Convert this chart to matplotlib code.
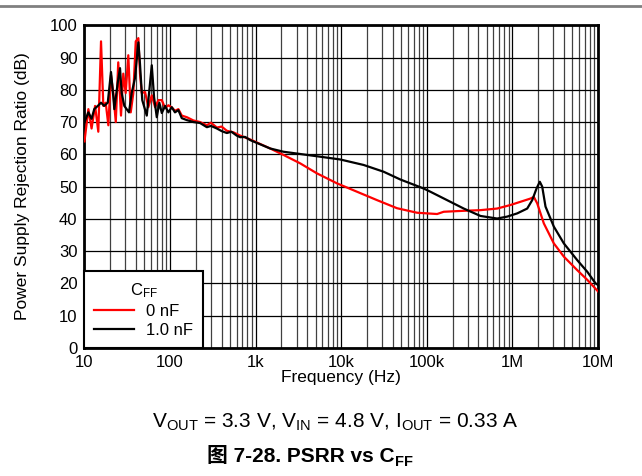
import matplotlib
matplotlib.use("Agg")
import matplotlib.pyplot as plt
from matplotlib.lines import Line2D
from matplotlib.ticker import FixedLocator, LogLocator, NullFormatter

plt.rcParams['font.family'] = ['Liberation Sans', 'Noto Sans CJK SC']
plt.rcParams['mathtext.default'] = 'regular'

# data (frequency in Hz, PSRR in dB)
f_0nf = [10, 11.1, 12.1, 13.3, 14.5, 15.6, 16.6, 17.7, 19.0, 20.4, 21.7, 23.2, 24.8, 26.7,
         28.4, 30.3, 32.5, 34.7, 37.2, 39.7, 42.6, 44.5, 46.7, 51, 55.7, 61.1, 66.8, 73,
         80, 87.5, 95.5, 105, 114, 125, 137, 157, 187, 224, 269, 300, 352, 400, 460, 550,
         659, 863, 1479, 2115, 3311, 5195, 8913, 15280, 26180, 44800, 76750, 131600,
         157200, 269300, 422600, 662600, 948000, 1.242e6, 1.625e6, 1.776e6, 1.945e6,
         2.323e6, 3.041e6, 3.98e6, 5.71e6, 7.48e6, 1e7]
psrr_0nf = [64, 74, 68, 75, 67, 95, 75, 76, 69, 84.5, 79, 70, 88.5, 72,
            85, 79, 90.7, 73, 79, 95, 96, 85, 79, 79.3, 74.6, 78.3, 74.6, 76.8,
            76.8, 74.3, 75.2, 74.5, 73.5, 74.0, 72, 71.5, 70.5, 70, 69, 69.8, 68.3, 68.6, 67.3, 66.8,
            65.8, 64.6, 61.8, 59.8, 57.2, 54.1, 51.0, 48.4, 45.8, 43.3, 41.9, 41.5,
            42.2, 42.5, 42.7, 43.2, 44.3, 45.3, 46.3, 46.8, 44.8,
            38.6, 32.4, 28.3, 24.1, 21.1, 17.5]

f_1nf = [10, 11.1, 12.1, 13.0, 14.3, 15.6, 17.0, 18.7, 20.4, 21.7, 22.3, 24.4, 26.0, 27.2,
         29.2, 31.1, 33.1, 35.6, 38.9, 42.6, 44.5, 47.3, 53.4, 57.3, 61.1, 65.0, 69.9, 74.9,
         80, 87.5, 95.5, 104.7, 114, 125, 137, 157, 187, 224, 269, 300, 352, 400, 460, 520,
         600, 659, 750, 863, 1479, 2115, 3311, 5195, 9730, 18240, 31260, 48950, 91800,
         110000, 172200, 269300, 422600, 662600, 867400, 1.136e6, 1.486e6, 1.70e6,
         1.909e6, 2.085e6, 2.224e6, 2.431e6, 3.041e6, 3.98e6, 5.71e6, 7.48e6, 9.35e6, 1e7]
psrr_1nf = [70, 73, 71, 74, 75, 76, 75, 76, 85.5, 78, 74, 82, 86.7, 79,
            75, 74, 73, 79, 83.6, 94.7, 88, 76.8, 72, 80, 87.6, 77.7, 71.5, 76,
            72.8, 75, 73, 74.6, 73, 73.7, 71.2, 70.6, 70, 69.7, 68.4, 68.8, 68, 67.2, 66.6, 67.0,
            65.8, 65.3, 65.4, 64.4, 61.8, 60.8, 60.1, 59.4, 58.4, 56.7, 54.6, 52.2, 49.4,
            48.4, 45.8, 43.2, 40.9, 40.1, 40.7, 41.7, 43.2, 45.8,
            49.4, 51.5, 50, 43.8, 37.6, 32.4, 27.2, 23.6, 20, 19.5]

x_ticks = [10, 100, 1e3, 1e4, 1e5, 1e6, 1e7]
x_labels = ['10', '100', '1k', '10k', '100k', '1M', '10M']
y_ticks = list(range(0, 101, 10))

fig = plt.figure(figsize=(6.42, 4.76), dpi=100)
ax = fig.add_axes([0.1316, 0.269, 0.8, 0.678])

ax.plot(f_0nf, psrr_0nf, color='#ff0000', lw=1.6, label='0 nF', zorder=3)
ax.plot(f_1nf, psrr_1nf, color='black', lw=1.6, label='1.0 nF', zorder=4)

ax.set_xscale('log')
ax.set_xlim(10, 1e7)
ax.set_ylim(0, 100)
ax.xaxis.set_major_locator(FixedLocator(x_ticks))
ax.set_xticklabels(x_labels)
ax.xaxis.set_minor_locator(LogLocator(base=10, subs=range(2, 10), numticks=20))
ax.xaxis.set_minor_formatter(NullFormatter())
ax.set_yticks(y_ticks)
ax.tick_params(which='both', length=0, labelsize=12, pad=5)

ax.grid(which='major', color='black', lw=0.9)
ax.grid(which='minor', axis='x', color='#404040', lw=0.9)
ax.set_axisbelow(True)
for s in ax.spines.values():
    s.set_linewidth(2)

ax.set_xlabel('Frequency (Hz)', fontsize=12.5, labelpad=0)
ax.set_ylabel('Power Supply Rejection Ratio (dB)', fontsize=12.5, labelpad=14)

leg = ax.legend(title=r'C$_{FF}$', loc='lower left', bbox_to_anchor=(0, 0),
                borderaxespad=0, fancybox=False, framealpha=1, edgecolor='black',
                fontsize=12, title_fontsize=12, handlelength=2.4,
                handletextpad=0.7, borderpad=0.6, labelspacing=0.25)
leg.get_frame().set_linewidth(1.5)
leg.set_zorder(10)

# gray rule at the very top
fig.add_artist(Line2D([0, 1], [0.987, 0.987], color='#808080', lw=2))

fig.text(0.522, 0.113, r'V$_{OUT}$ = 3.3 V, V$_{IN}$ = 4.8 V, I$_{OUT}$ = 0.33 A',
         ha='center', va='center', fontsize=15)
t1 = fig.text(0.322, 0.04, '图 7-28. PSRR vs C', ha='left', va='center',
              fontsize=15, fontweight='bold')
ax.annotate('FF', xy=(1, 0.22), xycoords=t1, xytext=(0.5, 0), textcoords='offset points',
            fontsize=10.5, fontweight='bold', ha='left', va='center')

plt.savefig('out.png', dpi=100)
